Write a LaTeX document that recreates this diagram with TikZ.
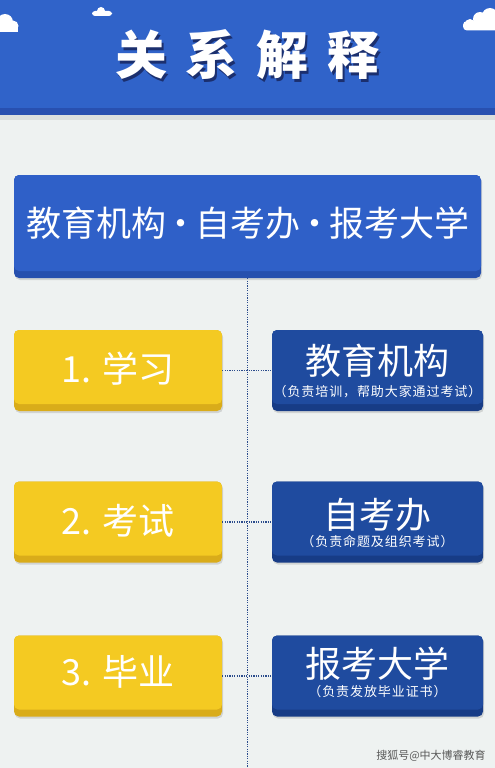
\documentclass[tikz,border=0pt]{standalone}
\usepackage{fontspec}
\setmainfont{Noto Sans CJK SC}
\usetikzlibrary{shadows}
\definecolor{bg}{HTML}{EEF2F1}
\definecolor{hdr}{HTML}{3063C9}
\definecolor{hdrdark}{HTML}{2850B0}
\definecolor{mainb}{HTML}{2F60C8}
\definecolor{maindark}{HTML}{2650AE}
\definecolor{yel}{HTML}{F4CA22}
\definecolor{ydark}{HTML}{D9AC1A}
\definecolor{navy}{HTML}{1F4B9F}
\definecolor{navydark}{HTML}{173C86}
\definecolor{conncol}{HTML}{2B4C8C}
\definecolor{tshadow}{HTML}{1B2F6E}
\newcommand{\ttlword}{关\hspace{19pt}系\hspace{19pt}解\hspace{19pt}释}
\newcommand{\ndot}{\kern-3pt·\kern-3pt}
\tikzset{
  threed/.style 2 args={fill=#2, rounded corners=5pt, inner sep=0pt,
    path picture={\fill[#1,rounded corners=5pt] (path picture bounding box.north west) rectangle ([yshift=7pt]path picture bounding box.south east);}},
  softshadow/.style={drop shadow={shadow xshift=1pt, shadow yshift=-2pt, opacity=.12, fill=black}},
  ybox/.style={threed={yel}{ydark}, softshadow, minimum width=208pt, minimum height=81pt},
  bbox/.style={threed={navy}{navydark}, softshadow, minimum width=211pt, minimum height=81pt},
  ytext/.style={text=white, inner sep=0pt, font=\fontsize{36}{40}\selectfont},
  btitle/.style={text=white, inner sep=0pt, font=\fontsize{36}{40}\selectfont},
  bsub/.style={text=white, inner sep=0pt, font=\fontsize{13}{15}\selectfont\addfontfeatures{LetterSpace=7}},
  conn/.style={conncol, line width=1.3pt, dash pattern=on 1.2pt off 1.2pt},
  cloud/.style={fill=white}
}
\begin{document}
\begin{tikzpicture}[x=1pt,y=-1pt]
\useasboundingbox (0,0) rectangle (495,768);
\fill[bg] (0,0) rectangle (495,768);
% header
\fill[black,opacity=.08] (0,112) rectangle (495,120);
\node[fill=hdrdark, inner sep=0pt, minimum width=495pt, minimum height=115pt, anchor=north west,
  path picture={\fill[hdr] (path picture bounding box.north west) rectangle ([yshift=7pt]path picture bounding box.south east);}] (hdr) at (0,0) {};
% clouds
\fill[cloud] (-5,24) rectangle (18,32);
\fill[cloud] (5,22) circle (8);
\fill[cloud] (13,26) circle (5.5);
\fill[cloud,rounded corners=3pt] (92,11) rectangle (112,16);
\fill[cloud] (101,11) circle (4);
\fill[cloud,rounded corners=4pt] (463,21) rectangle (500,30.5);
\fill[cloud] (480,19) circle (7);
\fill[cloud] (490,16) circle (8);
\fill[cloud] (470,24) circle (5);
% title with shadow
\node[text=white, inner sep=0pt, font=\fontsize{52}{56}\selectfont\bfseries] (title) at (247.5,56)
  {\rlap{\kern2pt\raisebox{-2.5pt}{\textcolor{tshadow}{\ttlword}}}\ttlword};
% main box
\node[threed={mainb}{maindark}, softshadow, minimum width=467pt, minimum height=103pt] (main) at (247.5,226.5) {};
\node[text=white, inner sep=0pt, font=\fontsize{35}{40}\selectfont] (maintext) at (247.5,223) {教育机构\ndot 自考办\ndot 报考大学};
% bottom coordinate
\coordinate (bot) at (247.5,768);
\draw[conn] (main.south) -- (bot);
% rows
\node[ybox] (y1) at (118,370.5) {};
\node[bbox] (b1) at (377.5,370.5) {};
\node[ybox] (y2) at (118,522) {};
\node[bbox] (b2) at (377.5,522) {};
\node[ybox] (y3) at (118,676) {};
\node[bbox] (b3) at (377.5,676) {};
\draw[conn] (y1.east) -- (b1.west);
\draw[conn] (y2.east) -- (b2.west);
\draw[conn] (y3.east) -- (b3.west);
% texts
\node[ytext] (y1t) at (118,369) {1. 学习};
\node[ytext] (y2t) at (118,521) {2. 考试};
\node[ytext] (y3t) at (118,672) {3. 毕业};
\node[btitle] (b1t) at (377.5,360.5) {教育机构};
\node[bsub] (b1s) at (377.5,392) {（负责培训，帮助大家通过考试）};
\node[btitle] (b2t) at (377.5,515) {自考办};
\node[bsub] (b2s) at (377.5,542) {（负责命题及组织考试）};
\node[btitle] (b3t) at (377.5,664) {报考大学};
\node[bsub] (b3s) at (377.5,692) {（负责发放毕业证书）};
% watermark
\node[text=black!65, inner sep=0pt, font=\fontsize{11}{12}\selectfont] (wm) at (431,756) {搜狐号@中大博睿教育};
\end{tikzpicture}
\end{document}
